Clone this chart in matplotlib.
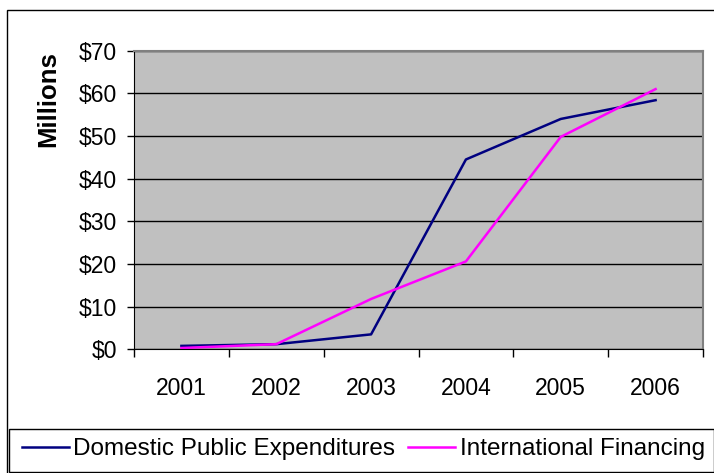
import matplotlib
matplotlib.use("Agg")
import matplotlib.pyplot as plt
from matplotlib.patches import Rectangle
from matplotlib.lines import Line2D

years = ["2001", "2002", "2003", "2004", "2005", "2006"]
domestic = [0.8, 1.2, 3.5, 44.5, 54.0, 58.4]
international = [0.3, 1.2, 11.8, 20.6, 49.8, 61.0]
yticks = [0, 10, 20, 30, 40, 50, 60, 70]
ytick_labels = ["$0", "$10", "$20", "$30", "$40", "$50", "$60", "$70"]

plt.rcParams['font.family'] = ['Liberation Sans', 'DejaVu Sans']

W, H = 714, 473
fig = plt.figure(figsize=(W / 100, H / 100), dpi=100)

# outer chart frame
fig.patches.append(Rectangle((7 / W, -0.1), 1.0, 1.1 - 10 / H,
                             transform=fig.transFigure, fill=False,
                             edgecolor='black', linewidth=1.0))

left, right, top, bottom = 134, 703, 50.7, 349.3
ax = fig.add_axes([left / W, 1 - bottom / H, (right - left) / W, (bottom - top) / H])
ax.set_facecolor('#C0C0C0')
x = list(range(len(years)))
ax.plot(x, domestic, color='#000080', linewidth=1.8, label='Domestic Public Expenditures')
ax.plot(x, international, color='#FF00FF', linewidth=1.8, label='International Financing')

ax.set_xlim(-0.5, len(years) - 0.5)
ax.set_ylim(0, 70)
ax.set_yticks(yticks)
ax.set_yticklabels(ytick_labels, fontsize=16.5)
ax.set_xticks([i - 0.5 for i in range(len(years) + 1)])
ax.set_xticklabels([])
ax.set_xticks(x, minor=True)
ax.set_xticklabels(years, minor=True, fontsize=16.5)
ax.tick_params(axis='x', which='minor', length=0, pad=20)
ax.tick_params(axis='x', which='major', length=6, width=1, direction='out')
ax.tick_params(axis='y', length=5, width=1, direction='out', pad=7)
ax.grid(axis='y', color='black', linewidth=1.0)
ax.set_axisbelow(True)
for s in ['top', 'right']:
    ax.spines[s].set_color('#808080')
    ax.spines[s].set_linewidth(1.5)
for s in ['left', 'bottom']:
    ax.spines[s].set_color('black')
fig.text(48 / W, 1 - 99 / H, 'Millions', rotation=90, fontsize=18.5,
         fontweight='bold', ha='center', va='center')

# legend box
fig.patches.append(Rectangle((9 / W, 1 - 471.5 / H), (W - 9) / W, 43 / H,
                             transform=fig.transFigure, fill=False,
                             edgecolor='black', linewidth=1.0))
handles = [Line2D([], [], color='#000080', linewidth=1.8),
           Line2D([], [], color='#FF00FF', linewidth=1.8)]
fig.legend(handles, ['Domestic Public Expenditures', 'International Financing'],
           loc='center', bbox_to_anchor=(363.5 / W, 1 - 449 / H), ncol=2,
           frameon=False, fontsize=17.5, handlelength=1.93, handletextpad=0.2,
           columnspacing=0.53, borderpad=0, borderaxespad=0)

fig.savefig('out.png', dpi=100)
